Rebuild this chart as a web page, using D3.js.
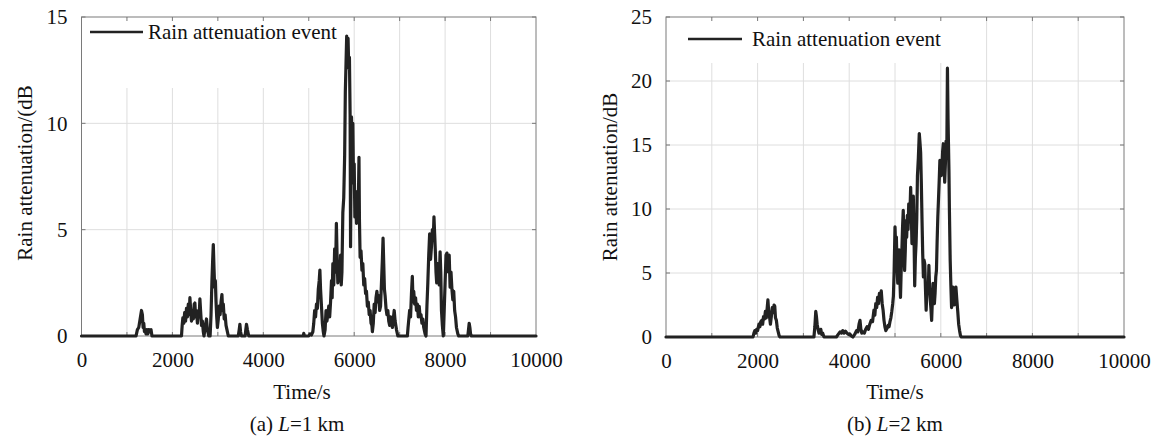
<!DOCTYPE html>
<html>
<head>
<meta charset="utf-8">
<script src="https://cdn.jsdelivr.net/npm/d3@7"></script>
<style>
  body { margin: 0; background: #fff; }
  svg { display: block; }
  svg text { font-family: 'Liberation Serif', 'Tinos', 'Times New Roman', 'DejaVu Serif', 'Noto Serif', serif !important; fill: #111; }
</style>
</head>
<body>
<svg id="chart" width="1159" height="441"></svg>
<script>
// Axis ticks
const xTicks = [0, 2000, 4000, 6000, 8000, 10000];
const xGrid = [1000, 2000, 3000, 4000, 5000, 6000, 7000, 8000, 9000];
const yTicksL1 = [0, 5, 10, 15];
const yTicksL2 = [0, 5, 10, 15, 20, 25];

// Rain attenuation time series, [time (s), attenuation (dB)] — path length 1 km
const eventL1 = [
  [0,0],[1200,0],[1230,0.3],[1260,0.4],[1290,0.8],[1320,1.2],[1340,1.0],[1355,0.4],[1370,0.6],
  [1385,0.2],[1400,0.3],[1420,0.1],[1440,0.3],[1460,0.1],[1480,0.3],[1500,0.2],[1530,0.3],[1550,0],
  [2200,0],[2215,0.5],[2230,0.85],[2250,0.6],[2270,1.1],[2290,0.7],[2310,1.3],[2330,0.9],[2350,1.5],
  [2370,1.0],[2385,1.8],[2400,1.3],[2420,0.7],[2440,1.2],[2460,0.8],[2480,1.5],[2495,1.55],[2510,0.9],
  [2530,1.2],[2550,0.6],[2570,1.1],[2590,1.0],[2605,1.75],[2620,1.2],[2640,0.5],[2660,0.7],[2680,0.2],
  [2695,0],[2720,0.4],[2750,0.8],[2770,0.3],[2800,0],[2830,0],[2850,1.0],[2870,2.6],[2885,3.5],
  [2900,4.3],[2915,3.2],[2930,2.3],[2945,2.6],[2960,1.6],[2975,0.9],[2990,0.4],[3010,0.8],[3030,1.4],
  [3050,1.0],[3070,1.6],[3090,1.95],[3105,1.2],[3120,1.5],[3140,0.8],[3160,1.0],[3180,0.5],[3200,0.3],
  [3230,0],[3450,0],[3470,0.3],[3485,0.55],[3500,0.2],[3520,0],[3600,0],[3615,0.3],[3630,0.55],
  [3650,0.3],[3680,0],[4880,0],[4890,0.12],[4905,0],[5000,0],[5030,0.1],[5060,0.05],[5090,0.2],
  [5110,0.6],[5130,1.2],[5150,0.9],[5170,1.5],[5190,1.3],[5210,2.2],[5230,2.6],[5245,3.1],[5260,2.2],
  [5280,1.4],[5300,0.6],[5320,0.2],[5335,0],[5360,0.3],[5380,1.2],[5400,0.7],[5420,1.0],[5440,1.4],
  [5460,0.9],[5480,1.6],[5500,2.6],[5515,1.8],[5530,3.4],[5550,2.4],[5570,4.1],[5590,3.0],[5608,5.3],
  [5625,3.6],[5640,2.5],[5660,3.2],[5680,2.6],[5700,3.8],[5715,2.4],[5730,3.0],[5750,5.8],[5770,6.5],
  [5790,8.5],[5805,11.5],[5820,12.8],[5835,14.1],[5850,13.2],[5865,14.0],[5880,12.6],[5895,13.1],
  [5910,10.4],[5920,4.2],[5930,7.5],[5940,10.3],[5955,9.0],[5970,10.0],[5985,7.2],[6000,8.1],
  [6015,5.6],[6030,6.8],[6050,5.3],[6070,6.3],[6090,6.0],[6105,8.4],[6115,5.5],[6130,3.7],[6150,4.0],
  [6170,3.1],[6190,3.4],[6210,2.4],[6230,2.7],[6250,2.0],[6270,2.1],[6290,1.4],[6310,1.6],[6330,1.0],
  [6350,1.2],[6370,0.6],[6390,0.5],[6400,0.2],[6420,0.6],[6440,1.5],[6460,1.1],[6480,1.8],[6500,2.1],
  [6520,1.6],[6540,1.9],[6560,1.2],[6580,1.4],[6600,2.5],[6620,3.6],[6635,4.6],[6650,3.4],[6665,2.2],
  [6680,1.9],[6700,1.3],[6720,1.0],[6740,1.2],[6760,0.7],[6780,0.5],[6800,0.9],[6820,0.8],[6840,0.4],
  [6860,0.8],[6880,1.2],[6900,0.7],[6930,0.3],[6960,0],[7170,0],[7185,0.4],[7200,0.75],[7220,1.2],
  [7240,0.9],[7260,2.0],[7279,2.8],[7295,1.6],[7310,2.1],[7330,1.5],[7350,1.8],[7370,1.2],[7390,1.5],
  [7410,0.9],[7430,1.4],[7450,0.9],[7470,1.0],[7490,0.6],[7510,0.8],[7530,0.4],[7560,0.1],[7580,0],
  [7600,1.4],[7620,2.5],[7640,3.8],[7660,4.8],[7680,3.6],[7700,4.2],[7720,5.0],[7740,4.6],[7755,5.6],
  [7770,4.8],[7785,4.0],[7800,3.0],[7815,2.5],[7830,3.4],[7850,3.2],[7870,2.4],[7890,3.96],[7905,3.0],
  [7920,1.2],[7940,0.5],[7960,0],[7980,1.2],[8000,2.5],[8020,3.8],[8040,3.9],[8060,3.4],[8075,3.0],
  [8090,3.8],[8110,2.3],[8130,3.0],[8150,2.2],[8170,1.7],[8190,2.1],[8210,1.2],[8230,0.9],[8250,0.4],
  [8280,0.1],[8300,0],[8500,0],[8515,0.3],[8530,0.6],[8545,0.4],[8560,0.1],[8580,0],[10000,0]
];

// Rain attenuation time series, [time (s), attenuation (dB)] — path length 2 km
const eventL2 = [
  [0,0],[1900,0],[1920,0.3],[1940,0.5],[1960,0.3],[1980,0.6],[2000,0.5],[2030,1.0],[2050,0.8],
  [2070,1.2],[2090,1.3],[2110,1.0],[2130,1.6],[2150,1.4],[2170,2.0],[2190,1.5],[2210,2.3],[2225,2.9],
  [2240,2.1],[2260,1.6],[2280,1.0],[2300,1.6],[2320,2.3],[2340,1.9],[2360,2.5],[2375,2.4],[2390,1.5],
  [2410,1.3],[2430,0.7],[2450,0.4],[2470,0.1],[2490,0],[3230,0],[3250,0.8],[3270,2.0],[3285,1.6],
  [3300,1.0],[3320,0.6],[3340,0.3],[3360,0.4],[3380,0.6],[3400,0.2],[3420,0.3],[3450,0],[3720,0],
  [3760,0.2],[3800,0.4],[3830,0.3],[3860,0.5],[3890,0.3],[3920,0.45],[3950,0.3],[3980,0.2],[4010,0.25],
  [4040,0.1],[4080,0],[4120,0.2],[4160,0.5],[4190,0.4],[4215,1.0],[4236,1.3],[4255,0.6],[4275,0.3],
  [4300,0.4],[4330,0.3],[4360,0.6],[4390,0.8],[4420,0.6],[4450,1.0],[4480,1.3],[4510,1.2],[4540,2.1],
  [4560,1.7],[4580,2.6],[4600,2.3],[4620,3.1],[4640,2.6],[4660,3.4],[4680,3.0],[4700,3.6],[4720,2.6],
  [4740,2.1],[4760,1.3],[4780,0.8],[4800,0.5],[4830,0.7],[4850,0.9],[4870,0.8],[4890,1.2],[4910,1.5],
  [4930,2.0],[4950,2.6],[4965,3.2],[4980,5.0],[5000,8.6],[5015,7.0],[5030,7.8],[5045,5.5],[5060,4.2],
  [5075,6.0],[5090,6.8],[5105,4.6],[5120,3.1],[5135,5.2],[5150,6.8],[5165,8.6],[5180,9.9],[5195,7.5],
  [5210,5.2],[5225,6.8],[5240,9.1],[5255,7.8],[5270,9.5],[5285,8.4],[5300,10.4],[5320,9.0],[5342,11.7],
  [5355,9.8],[5370,7.3],[5385,9.4],[5400,11.0],[5415,8.0],[5430,4.0],[5445,6.2],[5460,7.3],[5475,9.2],
  [5490,12.6],[5510,14.0],[5530,15.9],[5545,15.2],[5560,14.4],[5575,12.0],[5590,9.1],[5605,6.5],
  [5620,4.7],[5635,6.0],[5650,5.7],[5665,3.8],[5680,2.1],[5695,3.5],[5710,4.2],[5725,3.4],[5740,5.6],
  [5755,3.8],[5770,2.9],[5785,2.2],[5800,1.3],[5815,2.8],[5830,4.2],[5845,3.5],[5860,2.6],[5875,3.4],
  [5890,4.7],[5905,5.2],[5920,7.5],[5935,9.4],[5950,10.8],[5965,12.2],[5980,13.8],[5995,13.5],
  [6010,12.6],[6025,13.2],[6040,14.5],[6055,15.1],[6070,14.0],[6085,12.1],[6100,13.5],[6115,15.3],
  [6130,14.0],[6145,21.0],[6158,17.1],[6168,15.0],[6178,13.0],[6188,9.9],[6205,6.0],[6220,4.0],
  [6235,2.3],[6250,3.2],[6265,3.9],[6280,3.6],[6295,2.5],[6310,3.5],[6330,3.9],[6350,2.9],[6370,2.0],
  [6390,1.0],[6410,0.5],[6430,0.1],[6450,0],[10000,0]
];

const FONT = "'Liberation Serif', 'Tinos', 'Times New Roman', 'DejaVu Serif', 'Noto Serif', serif";
const svg = d3.select("#chart");

const panels = [
  {
    data: eventL1, yMax: 15, yTicks: yTicksL1,
    xRange: [81.5, 536], yRange: [336, 17],
    yLabel: "Rain attenuation/(dB", yLabelX: 32, yLabelY: 173,
    timeX: 302, caption: ["(a) ", "L", "=1 km"], captionX: 297,
    legendBox: [82, 18, 268, 70], legendLine: [90, 143, 32], legendText: [148, 39]
  },
  {
    data: eventL2, yMax: 25, yTicks: yTicksL2,
    xRange: [666, 1124], yRange: [337, 17],
    yLabel: "Rain attenuation/dB", yLabelX: 617, yLabelY: 177,
    timeX: 895, caption: ["(b) ", "L", "=2 km"], captionX: 895,
    legendBox: [667, 18, 298, 45], legendLine: [688, 742, 39], legendText: [752, 46]
  }
];

panels.forEach(p => {
  const x = d3.scaleLinear().domain([0, 10000]).range(p.xRange);
  const y = d3.scaleLinear().domain([0, p.yMax]).range(p.yRange);
  const g = svg.append("g").attr("font-family", FONT);
  const [xl, xr] = p.xRange;
  const [yb, yt] = p.yRange;

  // grid
  g.append("g").selectAll("line").data(xGrid).join("line")
    .attr("x1", d => x(d)).attr("x2", d => x(d))
    .attr("y1", yt).attr("y2", yb)
    .attr("stroke", "#dedede").attr("stroke-width", 1);
  g.append("g").selectAll("line").data(p.yTicks.filter(v => v > 0 && v < p.yMax)).join("line")
    .attr("x1", xl).attr("x2", xr)
    .attr("y1", d => y(d)).attr("y2", d => y(d))
    .attr("stroke", "#dedede").attr("stroke-width", 1);

  // legend background
  const [bx, by, bw, bh] = p.legendBox;
  g.append("rect").attr("x", bx).attr("y", by).attr("width", bw).attr("height", bh).attr("fill", "#fff");

  // inner tick marks
  const tk = 4;
  const ticks = g.append("g").attr("stroke", "#777").attr("stroke-width", 1);
  ticks.selectAll(".tt").data(xGrid).join("line")
    .attr("x1", d => x(d)).attr("x2", d => x(d)).attr("y1", yt).attr("y2", yt + tk);
  ticks.selectAll(".tb").data(xGrid).join("line")
    .attr("x1", d => x(d)).attr("x2", d => x(d)).attr("y1", yb).attr("y2", yb - tk);
  ticks.selectAll(".tl").data(p.yTicks).join("line")
    .attr("x1", xl).attr("x2", xl + tk).attr("y1", d => y(d)).attr("y2", d => y(d));
  ticks.selectAll(".tr").data(p.yTicks).join("line")
    .attr("x1", xr).attr("x2", xr - tk).attr("y1", d => y(d)).attr("y2", d => y(d));

  // frame
  g.append("rect").attr("x", xl).attr("y", yt).attr("width", xr - xl).attr("height", yb - yt)
    .attr("fill", "none").attr("stroke", "#7a7a7a").attr("stroke-width", 1);

  // data line
  const line = d3.line().x(d => x(d[0])).y(d => y(d[1]));
  g.append("path").datum(p.data).attr("d", line)
    .attr("fill", "none").attr("stroke", "#222").attr("stroke-width", 3.2)
    .attr("stroke-linejoin", "round").attr("stroke-linecap", "round");

  // axes labels
  const xAxis = g.append("g").attr("transform", `translate(0,${yb})`)
    .call(d3.axisBottom(x).tickValues(xTicks).tickFormat(d3.format("d")).tickSize(0).tickPadding(16));
  const yAxis = g.append("g").attr("transform", `translate(${xl},0)`)
    .call(d3.axisLeft(y).tickValues(p.yTicks).tickFormat(d3.format("d")).tickSize(0).tickPadding(14));
  [xAxis, yAxis].forEach(a => {
    a.attr("font-family", FONT).attr("font-size", 21);
    a.select(".domain").remove();
    a.selectAll("text").attr("fill", "#111");
  });

  // legend
  const [lx1, lx2, ly] = p.legendLine;
  g.append("line").attr("x1", lx1).attr("x2", lx2).attr("y1", ly).attr("y2", ly)
    .attr("stroke", "#222").attr("stroke-width", 2.5);
  g.append("text").attr("x", p.legendText[0]).attr("y", p.legendText[1])
    .attr("font-size", 21).text("Rain attenuation event");

  // axis titles
  g.append("text").attr("transform", `translate(${p.yLabelX},${p.yLabelY}) rotate(-90)`)
    .attr("text-anchor", "middle").attr("font-size", 21).text(p.yLabel);
  g.append("text").attr("x", p.timeX).attr("y", 399)
    .attr("text-anchor", "middle").attr("font-size", 21).text("Time/s");

  // caption
  const cap = g.append("text").attr("x", p.captionX).attr("y", 431)
    .attr("text-anchor", "middle").attr("font-size", 21);
  cap.append("tspan").text(p.caption[0]);
  cap.append("tspan").attr("font-style", "italic").text(p.caption[1]);
  cap.append("tspan").text(p.caption[2]);
});
</script>
</body>
</html>
